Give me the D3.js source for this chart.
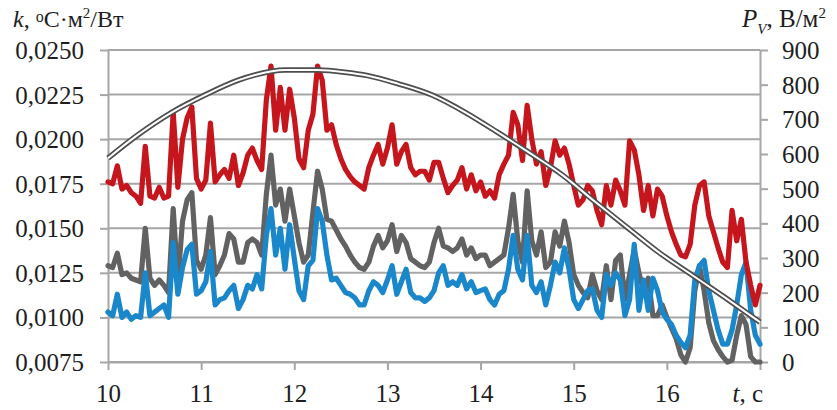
<!DOCTYPE html>
<html>
<head>
<meta charset="utf-8">
<script src="https://cdn.jsdelivr.net/npm/d3@7/dist/d3.min.js"></script>
<style>
  html, body { margin: 0; padding: 0; background: #fff; }
  svg { display: block; }
  text { font-family: "Liberation Serif", "Times New Roman", serif; fill: #1e1e1e; }
</style>
</head>
<body>
<script>
// Time axis (hours) and sampling of the measured series
const xTicks = [10, 11, 12, 13, 14, 15, 16, 17];
const kTicks = [0.0075, 0.0100, 0.0125, 0.0150, 0.0175, 0.0200, 0.0225, 0.0250];
const pTicks = [0, 100, 200, 300, 400, 500, 600, 700, 800, 900];
const tStart = 10, tStep = 0.05;

// Heat-transfer coefficient k, °C·м²/Вт (left axis)
const kRed = [
  0.0176, 0.0175, 0.0185, 0.0172, 0.0174, 0.0170, 0.0168, 0.0164, 0.0196, 0.0168,
  0.0167, 0.0173, 0.0167, 0.0168, 0.0215, 0.0173, 0.0200, 0.0212, 0.0218, 0.0178,
  0.0172, 0.0177, 0.0209, 0.0176, 0.0180, 0.0183, 0.0178, 0.0191, 0.0174, 0.0181,
  0.0191, 0.0195, 0.0188, 0.0183, 0.0222, 0.0241, 0.0205, 0.0229, 0.0205, 0.0228,
  0.0212, 0.0189, 0.0184, 0.0205, 0.0214, 0.0241, 0.0233, 0.0205, 0.0208, 0.0197,
  0.0189, 0.0183, 0.0179, 0.0176, 0.0174, 0.0172, 0.0184, 0.0191, 0.0197, 0.0186,
  0.0195, 0.0208, 0.0186, 0.0193, 0.0197, 0.0184, 0.0180, 0.0182, 0.0182, 0.0177,
  0.0187, 0.0187, 0.0178, 0.0170, 0.0174, 0.0177, 0.0184, 0.0172, 0.0180, 0.0171,
  0.0176, 0.0168, 0.0171, 0.0167, 0.0180, 0.0186, 0.0191, 0.0215, 0.0208, 0.0188,
  0.0219, 0.0200, 0.0186, 0.0193, 0.0174, 0.0184, 0.0199, 0.0191, 0.0195, 0.0186,
  0.0174, 0.0163, 0.0166, 0.0174, 0.0171, 0.0160, 0.0152, 0.0174, 0.0163, 0.0177,
  0.0171, 0.0163, 0.0199, 0.0194, 0.0180, 0.0160, 0.0174, 0.0157, 0.0172, 0.0168,
  0.0157, 0.0148, 0.0141, 0.0135, 0.0134, 0.0141, 0.0163, 0.0174, 0.0176, 0.0157,
  0.0148, 0.0139, 0.0131, 0.0128, 0.0160, 0.0143, 0.0155, 0.0131, 0.0118, 0.0107,
  0.0118
];
const kGray = [
  0.0129, 0.0128, 0.0136, 0.0124, 0.0125, 0.0122, 0.0121, 0.0120, 0.0150, 0.0122,
  0.0118, 0.0121, 0.0118, 0.0114, 0.0161, 0.0120, 0.0154, 0.0166, 0.0170, 0.0132,
  0.0127, 0.0135, 0.0156, 0.0124, 0.0129, 0.0135, 0.0147, 0.0144, 0.0131, 0.0131,
  0.0142, 0.0144, 0.0142, 0.0135, 0.0169, 0.0191, 0.0163, 0.0172, 0.0154, 0.0172,
  0.0157, 0.0142, 0.0131, 0.0135, 0.0159, 0.0182, 0.0172, 0.0155, 0.0154, 0.0149,
  0.0144, 0.0140, 0.0135, 0.0131, 0.0128, 0.0127, 0.0131, 0.0140, 0.0146, 0.0139,
  0.0143, 0.0152, 0.0137, 0.0146, 0.0142, 0.0133, 0.0131, 0.0129, 0.0128, 0.0131,
  0.0142, 0.0150, 0.0140, 0.0139, 0.0137, 0.0139, 0.0144, 0.0135, 0.0139, 0.0133,
  0.0135, 0.0135, 0.0129, 0.0131, 0.0133, 0.0135, 0.0150, 0.0169, 0.0143, 0.0131,
  0.0171, 0.0143, 0.0135, 0.0148, 0.0128, 0.0131, 0.0148, 0.0140, 0.0154, 0.0142,
  0.0124, 0.0118, 0.0114, 0.0111, 0.0124, 0.0115, 0.0110, 0.0129, 0.0110, 0.0132,
  0.0135, 0.0110, 0.0124, 0.0138, 0.0125, 0.0115, 0.0122, 0.0101, 0.0101, 0.0107,
  0.0100, 0.0094, 0.0088, 0.0079, 0.0075, 0.0083, 0.0115, 0.0129, 0.0115, 0.0097,
  0.0087, 0.0082, 0.0078, 0.0075, 0.0076, 0.0090, 0.0101, 0.0096, 0.0078, 0.0075,
  0.0075
];
const kBlue = [
  0.0103, 0.0101, 0.0113, 0.0100, 0.0103, 0.0099, 0.0101, 0.0100, 0.0125, 0.0101,
  0.0103, 0.0105, 0.0107, 0.0100, 0.0142, 0.0113, 0.0128, 0.0138, 0.0141, 0.0113,
  0.0115, 0.0120, 0.0137, 0.0107, 0.0110, 0.0111, 0.0115, 0.0118, 0.0105, 0.0110,
  0.0118, 0.0116, 0.0124, 0.0116, 0.0146, 0.0161, 0.0135, 0.0150, 0.0127, 0.0152,
  0.0133, 0.0115, 0.0110, 0.0129, 0.0132, 0.0161, 0.0154, 0.0135, 0.0121, 0.0122,
  0.0118, 0.0114, 0.0113, 0.0111, 0.0107, 0.0107, 0.0115, 0.0120, 0.0118, 0.0114,
  0.0121, 0.0129, 0.0113, 0.0120, 0.0127, 0.0114, 0.0111, 0.0111, 0.0109, 0.0111,
  0.0115, 0.0125, 0.0129, 0.0118, 0.0120, 0.0118, 0.0124, 0.0116, 0.0120, 0.0114,
  0.0115, 0.0116, 0.0110, 0.0107, 0.0113, 0.0115, 0.0127, 0.0146, 0.0127, 0.0121,
  0.0146, 0.0118, 0.0114, 0.0120, 0.0107, 0.0118, 0.0131, 0.0125, 0.0139, 0.0127,
  0.0110, 0.0105, 0.0110, 0.0115, 0.0116, 0.0104, 0.0100, 0.0124, 0.0118, 0.0125,
  0.0121, 0.0101, 0.0110, 0.0141, 0.0104, 0.0121, 0.0104, 0.0122, 0.0115, 0.0103,
  0.0099, 0.0096, 0.0090, 0.0086, 0.0083, 0.0090, 0.0121, 0.0129, 0.0132, 0.0115,
  0.0104, 0.0093, 0.0085, 0.0085, 0.0093, 0.0107, 0.0124, 0.0131, 0.0104, 0.0090,
  0.0085
];

// Solar irradiance P_V, В/м² (right axis)
const pvTime = [10.0, 10.32, 10.69, 11.04, 11.40, 11.58, 11.90, 12.25, 12.54, 12.79, 13.11,
                13.48, 13.83, 14.18, 14.51, 14.88, 15.23, 15.58, 15.91, 16.27, 16.63, 17.0];
const pv     = [588, 655, 721, 770, 813, 828, 842, 842, 836, 826, 803,
                770, 721, 663, 606, 539, 462, 387, 317, 251, 185, 115];

const W = 837, H = 410;
const plotL = 108, plotR = 760, plotT = 50, plotB = 362;
const gridColor = "#a6a6a6";

const x  = d3.scaleLinear().domain([10, 17]).range([plotL, plotR]);
const yK = d3.scaleLinear().domain([0.0075, 0.0250]).range([plotB, plotT]);
const yP = d3.scaleLinear().domain([0, 900]).range([plotB, plotT]);

const svg = d3.select("body").append("svg")
  .attr("width", W).attr("height", H)
  .attr("viewBox", `0 0 ${W} ${H}`);
svg.append("rect").attr("width", W).attr("height", H).attr("fill", "#fff");

// Horizontal gridlines at the k ticks
svg.append("g").selectAll("line").data(kTicks).join("line")
  .attr("x1", plotL).attr("x2", plotR)
  .attr("y1", d => yK(d)).attr("y2", d => yK(d))
  .attr("stroke", gridColor).attr("stroke-width", 2);

function styleAxis(g) {
  g.selectAll("path.domain").attr("stroke", gridColor).attr("stroke-width", 2);
  g.selectAll(".tick line").attr("stroke", gridColor).attr("stroke-width", 2);
  g.selectAll(".tick text")
    .attr("font-size", 25)
    .attr("font-family", '"Liberation Serif", "Times New Roman", serif')
    .attr("fill", "#1e1e1e");
}

const fmtK = d => d.toFixed(4).replace(".", ",");

svg.append("g").attr("transform", `translate(${plotL},0)`)
  .call(d3.axisLeft(yK).tickValues(kTicks).tickFormat(fmtK)
    .tickSizeInner(8).tickSizeOuter(0).tickPadding(16))
  .call(styleAxis)
  .call(g => g.selectAll(".tick text").attr("dy", "0.34em"));

svg.append("g").attr("transform", `translate(${plotR},0)`)
  .call(d3.axisRight(yP).tickValues(pTicks).tickFormat(d3.format("d"))
    .tickSizeInner(8).tickSizeOuter(0).tickPadding(14))
  .call(styleAxis)
  .call(g => g.selectAll(".tick text").attr("dy", "0.34em"));

svg.append("g").attr("transform", `translate(0,${plotB})`)
  .call(d3.axisBottom(x).tickValues(xTicks).tickFormat(d => d === 17 ? "" : String(d))
    .tickSizeInner(8).tickSizeOuter(0).tickPadding(14))
  .call(styleAxis);

// Measured k series
const kLine = d3.line()
  .x((d, i) => x(tStart + i * tStep))
  .y(d => yK(d));

const series = [
  { values: kGray, color: "#626262" },
  { values: kBlue, color: "#1b87cb" },
  { values: kRed,  color: "#c6161d" }
];
svg.append("g").selectAll("path").data(series).join("path")
  .attr("d", d => kLine(d.values))
  .attr("fill", "none")
  .attr("stroke", d => d.color)
  .attr("stroke-width", 5.2)
  .attr("stroke-linejoin", "round")
  .attr("stroke-linecap", "round");

// Irradiance curve drawn as a hollow double line
const pvPts = pvTime.map((t, i) => [t, pv[i]]);
const pLine = d3.line().x(d => x(d[0])).y(d => yP(d[1])).curve(d3.curveMonotoneX);
const pg = svg.append("g");
pg.append("path").attr("d", pLine(pvPts))
  .attr("fill", "none").attr("stroke", "#4e4e4e").attr("stroke-width", 5.5);
pg.append("path").attr("d", pLine(pvPts))
  .attr("fill", "none").attr("stroke", "#ffffff").attr("stroke-width", 2);

// Axis titles
const tl = svg.append("text").attr("x", 13).attr("y", 27).attr("font-size", 24);
tl.append("tspan").attr("font-style", "italic").text("k");
tl.append("tspan").text(", ");
tl.append("tspan").attr("font-size", 16).attr("dy", -5).text("o");
tl.append("tspan").attr("dy", 5).text("C·м");
tl.append("tspan").attr("font-size", 15).attr("dy", -9).text("2");
tl.append("tspan").attr("dy", 9).text("/Вт");

const tr = svg.append("text").attr("x", 742).attr("y", 27).attr("font-size", 25);
tr.append("tspan").attr("font-style", "italic").text("P");
tr.append("tspan").attr("font-style", "italic").attr("font-size", 15).attr("dy", 7).text("V");
tr.append("tspan").attr("dy", -7).text(", В/м");
tr.append("tspan").attr("font-size", 15).attr("dy", -9).text("2");

const tx = svg.append("text").attr("x", 763).attr("y", 402)
  .attr("font-size", 25).attr("text-anchor", "end");
tx.append("tspan").attr("font-style", "italic").text("t");
tx.append("tspan").text(", с");
</script>
</body>
</html>
